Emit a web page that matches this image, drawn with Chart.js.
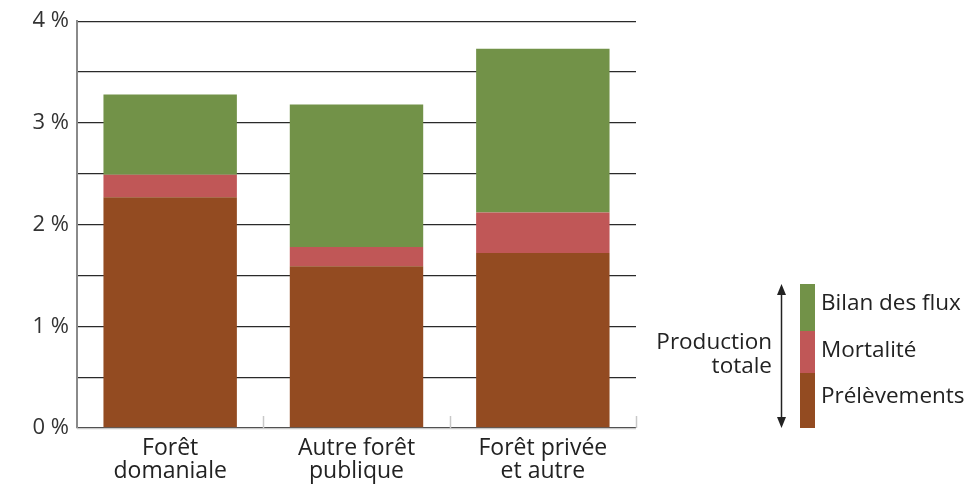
<!DOCTYPE html>
<html>
<head>
<meta charset="utf-8">
<script src="https://cdn.jsdelivr.net/npm/chart.js@4/dist/chart.umd.min.js"></script>
<style>
  body { margin: 0; background: #fff; }
  #wrap { width: 973px; height: 485px; }
</style>
</head>
<body>
<div id="wrap"><canvas id="myCanvas" width="973" height="485"></canvas></div>
<script>
const categories = [["Forêt", "domaniale"], ["Autre forêt", "publique"], ["Forêt privée", "et autre"]];
const prelevements = [2.27, 1.59, 1.72];
const mortalite = [0.22, 0.19, 0.40];
const bilanFlux = [0.79, 1.40, 1.61];
const seriesLabels = ["Prélèvements", "Mortalité", "Bilan des flux"];
const colors = ["#934b21", "#c05757", "#729248"];
const yTicks = [0, 1, 2, 3, 4];

const FONT = "'Open Sans', 'Noto Sans', sans-serif";

// ticks on the x axis between categories, pointing up
const boundaryTicks = {
   id: "boundaryTicks",
   afterDatasetsDraw(chart) {
      const { ctx, chartArea, scales } = chart;
      const x = scales.x;
      const half = (x.getPixelForValue(1) - x.getPixelForValue(0)) / 2;
      ctx.save();
      ctx.strokeStyle = "#c8c8c8";
      ctx.lineWidth = 1.5;
      for (let i = 0; i < categories.length; i++) {
         const px = Math.round(x.getPixelForValue(i) + half) + 0.5;
         ctx.beginPath();
         ctx.moveTo(px, chartArea.bottom);
         ctx.lineTo(px, chartArea.bottom - 12);
         ctx.stroke();
      }
      ctx.beginPath();
      ctx.moveTo(chartArea.left, chartArea.bottom + 0.5);
      ctx.lineTo(chartArea.right, chartArea.bottom + 0.5);
      ctx.stroke();
      ctx.restore();
   }
};

// side legend with "Production totale" arrow
const sideLegend = {
   id: "sideLegend",
   afterDraw(chart) {
      const { ctx, chartArea } = chart;
      const boxX = 800, boxW = 15;
      const bottom = chartArea.bottom;
      const heights = [55, 42, 47];
      ctx.save();
      let y = bottom;
      ctx.font = "22.5px " + FONT;
      ctx.textBaseline = "middle";
      ctx.textAlign = "left";
      chart.data.datasets.forEach((ds, i) => {
         ctx.fillStyle = ds.backgroundColor;
         ctx.fillRect(boxX, y - heights[i], boxW, heights[i]);
         ctx.fillStyle = "#222";
         const ty = [bottom - 31, bottom - 77, bottom - 124][i];
         ctx.fillText(ds.label, 821, ty);
         y -= heights[i];
      });
      const top = y;
      // arrow
      const ax = 781.5;
      ctx.strokeStyle = "#222";
      ctx.fillStyle = "#222";
      ctx.lineWidth = 1.5;
      ctx.beginPath();
      ctx.moveTo(ax, top + 6);
      ctx.lineTo(ax, bottom - 6);
      ctx.stroke();
      ctx.beginPath();
      ctx.moveTo(ax, top);
      ctx.lineTo(ax - 4.5, top + 11);
      ctx.lineTo(ax + 4.5, top + 11);
      ctx.closePath();
      ctx.fill();
      ctx.beginPath();
      ctx.moveTo(ax, bottom);
      ctx.lineTo(ax - 4.5, bottom - 11);
      ctx.lineTo(ax + 4.5, bottom - 11);
      ctx.closePath();
      ctx.fill();
      ctx.textAlign = "right";
      ctx.fillText("Production", 772, bottom - 85);
      ctx.fillText("totale", 772, bottom - 61);
      ctx.restore();
   }
};

new Chart(document.getElementById("myCanvas").getContext("2d"), {
   type: "bar",
   data: {
      labels: categories,
      datasets: [
         { label: seriesLabels[0], data: prelevements, backgroundColor: colors[0] },
         { label: seriesLabels[1], data: mortalite, backgroundColor: colors[1] },
         { label: seriesLabels[2], data: bilanFlux, backgroundColor: colors[2] }
      ]
   },
   options: {
      responsive: false,
      animation: false,
      layout: { padding: { top: 20, right: 337, left: 0, bottom: 0 } },
      datasets: {
         bar: { categoryPercentage: 1, barPercentage: 0.716, borderWidth: 0 }
      },
      plugins: {
         legend: { display: false },
         tooltip: { enabled: false }
      },
      scales: {
         x: {
            stacked: true,
            afterFit: s => { s.height = 57; },
            grid: { display: false },
            border: { display: false },
            ticks: { color: "#222", font: { family: FONT, size: 23, lineHeight: 1.0 }, padding: 1, maxRotation: 0 }
         },
         y: {
            stacked: true,
            min: 0,
            max: 4,
            afterFit: s => { s.width = 77; },
            afterBuildTicks: s => { s.ticks = []; for (let v = 0; v <= 8; v++) s.ticks.push({ value: v / 2 }); },
            grid: { color: "#2a2a2a", lineWidth: 1.3, drawTicks: false },
            border: { display: true, color: "#8a8a8a", width: 2 },
            ticks: {
               color: "#333",
               font: { family: FONT, size: 22 },
               padding: 8,
               callback: v => yTicks.includes(v) ? v + " %" : ""
            }
         }
      }
   },
   plugins: [boundaryTicks, sideLegend]
});
</script>
</body>
</html>
